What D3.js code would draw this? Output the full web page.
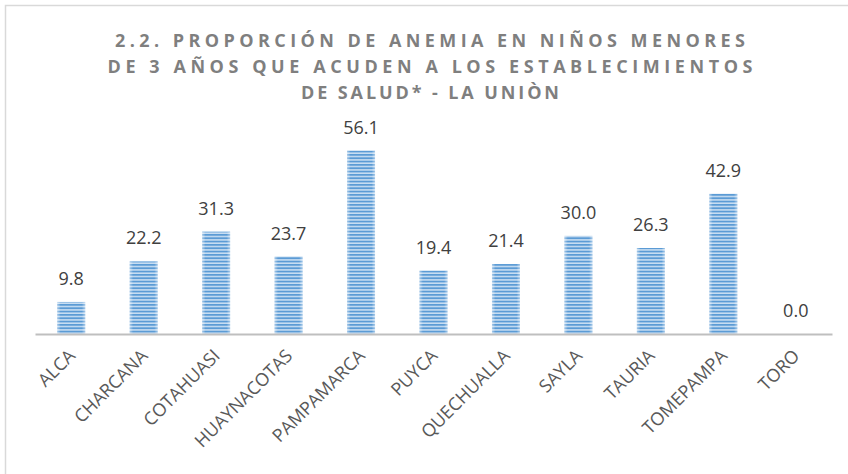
<!DOCTYPE html>
<html>
<head>
<meta charset="utf-8">
<script src="https://cdn.jsdelivr.net/npm/d3@7"></script>
<style>
  body { margin: 0; background: #fff; }
  svg { display: block; }
</style>
</head>
<body>
<svg width="848" height="474"></svg>
<script>
// data
var titleLines = [
    '2.2.  PROPORCIÓN DE ANEMIA EN NIÑOS MENORES',
    'DE 3 AÑOS QUE ACUDEN A LOS ESTABLECIMIENTOS',
    'DE SALUD* - LA UNIÒN'
];
var titleWidths = [630, 645, 258];
var districts = ['ALCA', 'CHARCANA', 'COTAHUASI', 'HUAYNACOTAS', 'PAMPAMARCA', 'PUYCA',
    'QUECHUALLA', 'SAYLA', 'TAURIA', 'TOMEPAMPA', 'TORO'];
var anemia = [9.8, 22.2, 31.3, 23.7, 56.1, 19.4, 21.4, 30.0, 26.3, 42.9, 0.0];

var svg = d3.select('svg');
var svgWidth = +svg.attr('width');
var svgHeight = +svg.attr('height');

var plot = {l: 35, r: 832, base: 334};

// chart frame (runs off the right and bottom edge like the screenshot)
svg.append('rect')
    .attr('x', 5.5)
    .attr('y', 5.5)
    .attr('width', svgWidth + 20)
    .attr('height', svgHeight + 20)
    .attr('fill', '#fff')
    .attr('stroke', '#d9d9d9')
    .attr('stroke-width', 1.5);

// striped fill for the bars
var defs = svg.append('defs');
var stripes = defs.append('pattern')
    .attr('id', 'stripes')
    .attr('patternUnits', 'userSpaceOnUse')
    .attr('width', 8)
    .attr('height', 10 / 3)
    .attr('y', plot.base);
stripes.append('rect')
    .attr('width', 8).attr('height', 10 / 3)
    .attr('fill', '#c9def2');
stripes.append('rect')
    .attr('width', 8).attr('height', 1.8)
    .attr('fill', '#5b9bd5');

var edge = defs.append('linearGradient')
    .attr('id', 'edge')
    .attr('x1', 0).attr('x2', 1).attr('y1', 0).attr('y2', 0);
edge.append('stop').attr('offset', '0').attr('stop-color', '#fff').attr('stop-opacity', 0.45);
edge.append('stop').attr('offset', '0.12').attr('stop-color', '#fff').attr('stop-opacity', 0);
edge.append('stop').attr('offset', '0.88').attr('stop-color', '#fff').attr('stop-opacity', 0);
edge.append('stop').attr('offset', '1').attr('stop-color', '#fff').attr('stop-opacity', 0.45);

// title, stretched to the widths seen in the reference
svg.selectAll('.title')
    .data(titleLines)
    .enter()
    .append('text')
    .attr('class', 'title')
    .attr('x', 430)
    .attr('y', (d, i) => 47 + i * 26)
    .attr('text-anchor', 'middle')
    .attr('font-family', 'Open Sans, sans-serif')
    .attr('font-weight', 'bold')
    .attr('font-size', 18)
    .attr('textLength', (d, i) => titleWidths[i])
    .attr('lengthAdjust', 'spacing')
    .attr('fill', '#7f7f7f')
    .text(d => d);

// scales
var xScale = d3.scaleBand()
    .domain(districts)
    .range([plot.l, plot.r])
    .paddingInner(0.614)
    .paddingOuter(0.307);

var yScale = d3.scaleLinear()
    .domain([0, 60])
    .range([plot.base, plot.base - 60 * 3.27]);

var data = districts.map((d, i) => ({name: d, value: anemia[i]}));

// bars
var bars = svg.selectAll('.bar')
    .data(data)
    .enter()
    .append('g')
    .attr('class', 'bar');

bars.append('rect')
    .attr('x', d => xScale(d.name))
    .attr('y', d => yScale(d.value))
    .attr('width', xScale.bandwidth())
    .attr('height', d => plot.base - yScale(d.value))
    .attr('fill', 'url(#stripes)');

bars.append('rect')
    .attr('x', d => xScale(d.name))
    .attr('y', d => yScale(d.value))
    .attr('width', xScale.bandwidth())
    .attr('height', d => plot.base - yScale(d.value))
    .attr('fill', 'url(#edge)');

// value labels
bars.append('text')
    .attr('x', d => xScale(d.name) + xScale.bandwidth() / 2)
    .attr('y', d => yScale(d.value) - 17)
    .attr('text-anchor', 'middle')
    .attr('font-family', 'Open Sans, sans-serif')
    .attr('font-size', 18)
    .attr('fill', '#404040')
    .text(d => d.value.toFixed(1));

// x axis
var xAxis = d3.axisBottom(xScale).tickSize(0);
var axisGroup = svg.append('g')
    .attr('class', 'x axis')
    .attr('transform', 'translate(0,' + plot.base + ')')
    .call(xAxis);

axisGroup.select('.domain')
    .attr('stroke', '#bfbfbf')
    .attr('stroke-width', 2);

axisGroup.selectAll('text')
    .attr('y', null)
    .attr('dy', null)
    .attr('transform', 'translate(5,23) rotate(-45)')
    .attr('text-anchor', 'end')
    .attr('font-family', 'Open Sans, sans-serif')
    .attr('font-size', 18)
    .attr('fill', '#595959');
</script>
</body>
</html>
